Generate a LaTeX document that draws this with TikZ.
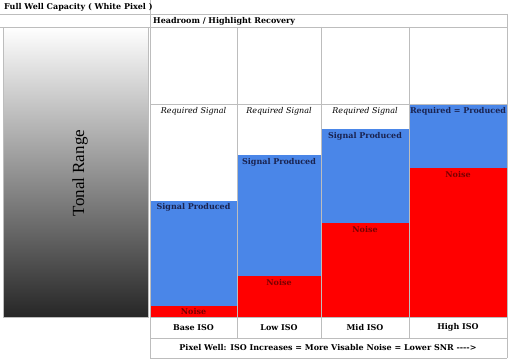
\documentclass[tikz,border=0pt]{standalone}
\usepackage{fontspec}
\setmainfont{DejaVu Serif}
\newfontfamily\tonalfont{Liberation Serif}
\definecolor{gridc}{HTML}{BDBDBD}
\definecolor{sigblue}{HTML}{4A86E8}
\definecolor{navy}{HTML}{1A2350}
\definecolor{noisetxt}{HTML}{7A0000}
\tikzset{
  grid line/.style={draw=gridc, line width=0.8pt},
  lbl/.style={font=\bfseries\fontsize{8}{10}\selectfont, inner sep=0pt},
  req/.style={font=\itshape\fontsize{8}{10}\selectfont, inner sep=0pt},
  sig/.style={lbl, text=navy},
  noi/.style={lbl, text=noisetxt},
}
\begin{document}
\begin{tikzpicture}[x=1pt,y=-1pt]
\useasboundingbox (0,0) rectangle (512,361);
\fill[white] (0,0) rectangle (512,361);
% gradient box
\shade[top color=white, middle color=black!32, bottom color=black!85] (3,27) rectangle (148,317);
\draw[grid line] (3,27) rectangle (148,317);
% column fills
\fill[sigblue] (150,201) rectangle (237,306);
\fill[red] (150,306) rectangle (237,317);
\fill[sigblue] (237,155) rectangle (321,276);
\fill[red] (237,276) rectangle (321,317);
\fill[sigblue] (321,129) rectangle (409,223);
\fill[red] (321,223) rectangle (409,317);
\fill[sigblue] (409,104) rectangle (507,168);
\fill[red] (409,168) rectangle (507,317);
% grid lines
\draw[grid line] (0,14) -- (507,14);
\draw[grid line] (0,27) -- (507,27);
\draw[grid line] (507,14) -- (507,358);
\draw[grid line] (150,0) -- (150,358);
\draw[grid line] (237,27) -- (237,338);
\draw[grid line] (321,27) -- (321,338);
\draw[grid line] (409,27) -- (409,338);
\draw[grid line] (150,104) -- (507,104);
\draw[grid line] (150,317) -- (507,317);
\draw[grid line] (150,338) -- (507,338);
\draw[grid line] (150,358) -- (507,358);
% texts
\node[lbl, anchor=west] (fwc) at (4,7.5) {Full Well Capacity ( White Pixel )};
\node[lbl, anchor=west] (head) at (153,21) {Headroom / Highlight Recovery};
\node[rotate=90, inner sep=0pt, font=\tonalfont\fontsize{17}{20}\selectfont] (tonal) at (80,173) {Tonal Range};
\node[req] (r1) at (193.5,111) {Required Signal};
\node[req] (r2) at (279,111) {Required Signal};
\node[req] (r3) at (365,111) {Required Signal};
\node[sig] (r4) at (458,111) {Required = Produced};
\node[sig] (s1) at (193.5,207.5) {Signal Produced};
\node[sig] (s2) at (279,162) {Signal Produced};
\node[sig] (s3) at (365,136) {Signal Produced};
\node[noi] (n1) at (193.5,312) {Noise};
\node[noi] (n2) at (279,283) {Noise};
\node[noi] (n3) at (365,230) {Noise};
\node[noi] (n4) at (458,175) {Noise};
\node[lbl] (b1) at (193.5,327.5) {Base ISO};
\node[lbl] (b2) at (279,327.5) {Low ISO};
\node[lbl] (b3) at (365,327.5) {Mid ISO};
\node[lbl] (b4) at (458,327.5) {High ISO};
\node[lbl] (foot) at (328,348) {Pixel Well: ISO Increases = More Visable Noise = Lower SNR -{}-{}-{}-{}>};
\end{tikzpicture}
\end{document}
